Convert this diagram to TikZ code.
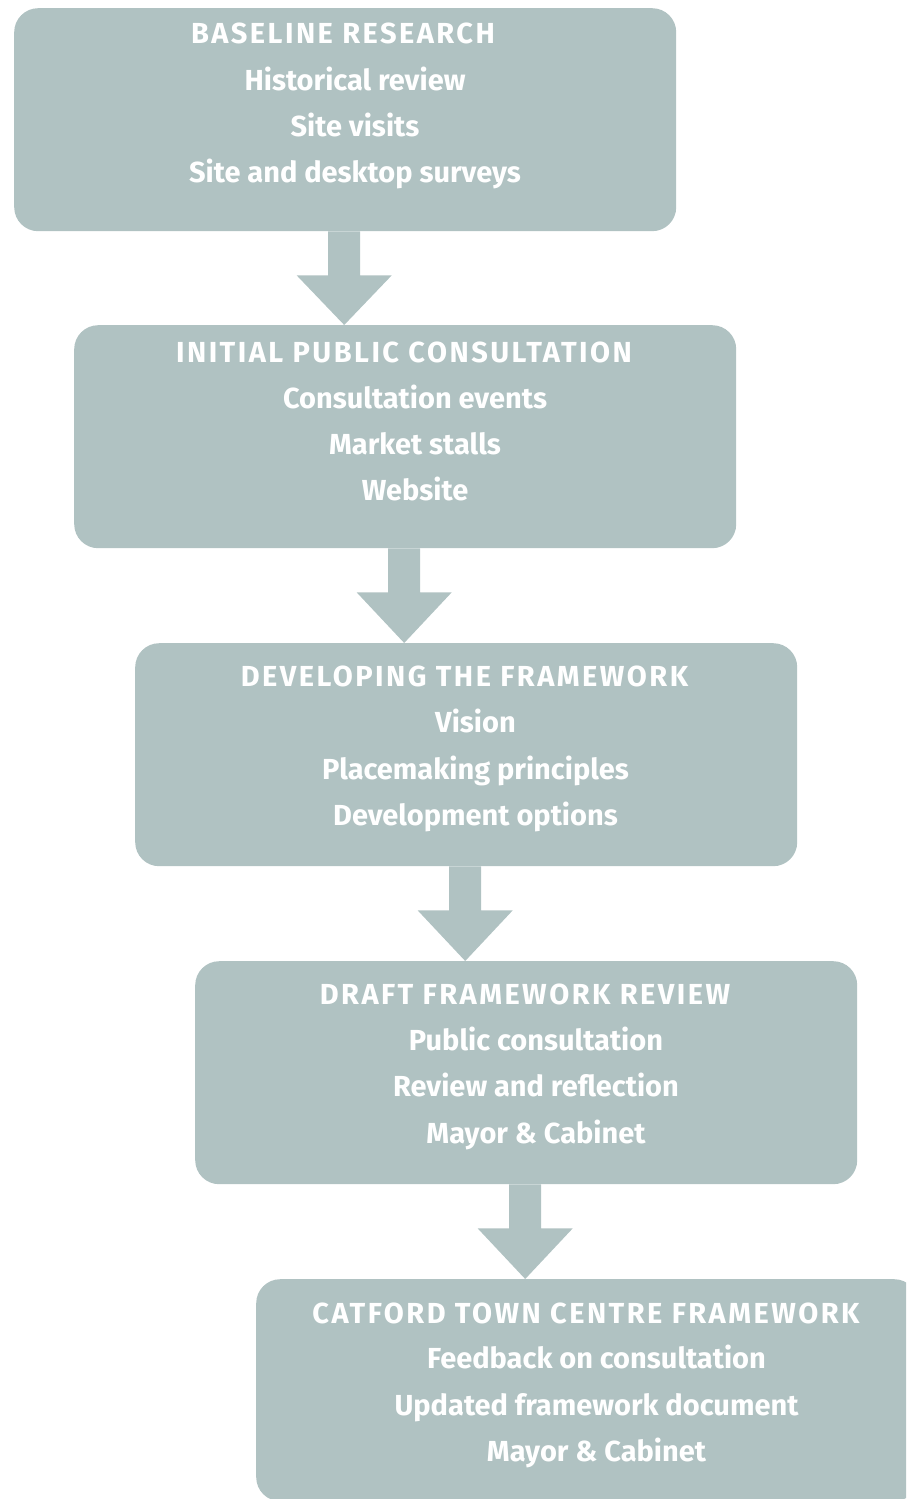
\documentclass[tikz,border=0pt]{standalone}
\usepackage{fontspec}
\setmainfont{Fira Sans}
\newfontfamily\ttlfont{Fira Sans}[LetterSpace=8.5]
\usetikzlibrary{calc}
\definecolor{boxc}{RGB}{176,194,194}
\begin{document}
\begin{tikzpicture}[x=1pt,y=-1pt,
  stagebox/.style={fill=boxc, draw=none, rounded corners=24pt, minimum width=662pt, minimum height=223pt, inner sep=0pt, anchor=north west},
  ttl/.style={text=white, font=\ttlfont\bfseries\fontsize{29}{34}\selectfont, inner sep=0pt, text height=20pt, text depth=0pt, anchor=center},
  itm/.style={text=white, font=\bfseries\fontsize{29}{34}\selectfont, inner sep=0pt, text height=20pt, text depth=0pt, anchor=center},
  af/.style={fill=boxc, draw=none}
]
\useasboundingbox (0,0) rectangle (906,1499);
\clip (0,0) rectangle (906,1499);

\node[stagebox] (b1) at (14,8) {};
\node[stagebox] (b2) at (74,325) {};
\node[stagebox] (b3) at (135,643) {};
\node[stagebox] (b4) at (195,961) {};
\node[stagebox, minimum height=222pt] (b5) at (256,1279) {};

\node[ttl] (t1) at (343,33) {BASELINE RESEARCH};
\node[itm] (t1a) at (355,80) {Historical review};
\node[itm] (t1b) at (355,126) {Site visits};
\node[itm] (t1c) at (355,172) {Site and desktop surveys};

\node[ttl] (t2) at (404,352) {INITIAL PUBLIC CONSULTATION};
\node[itm] (t2a) at (415,398) {Consultation events};
\node[itm] (t2b) at (415,444) {Market stalls};
\node[itm] (t2c) at (415,490) {Website};

\node[ttl] (t3) at (464.5,676) {DEVELOPING THE FRAMEWORK};
\node[itm] (t3a) at (475.5,722) {Vision};
\node[itm] (t3b) at (475.5,769) {Placemaking principles};
\node[itm] (t3c) at (475.5,815) {Development options};

\node[ttl] (t4) at (525,994) {DRAFT FRAMEWORK REVIEW};
\node[itm] (t4a) at (536,1040) {Public consultation};
\node[itm] (t4b) at (536,1086) {Review and reflection};
\node[itm] (t4c) at (536,1133) {Mayor \& Cabinet};

\node[ttl] (t5) at (586,1313) {CATFORD TOWN CENTRE FRAMEWORK};
\node[itm] (t5a) at (596.5,1358) {Feedback on consultation};
\node[itm] (t5b) at (596.5,1405) {Updated framework document};
\node[itm] (t5c) at (596.5,1451) {Mayor \& Cabinet};

\foreach \s/\t in {b1/b2,b2/b3,b3/b4,b4/b5}{
  \coordinate (S) at ([xshift=-1pt]\s.south);
  \coordinate (T) at (S |- \t.north);
  \fill[af] ([xshift=-16pt]S) -- ([xshift=-16pt,yshift=-44pt]S) -- ([xshift=-47.5pt,yshift=-44pt]S) -- (T)
     -- ([xshift=47.5pt,yshift=-44pt]S) -- ([xshift=16pt,yshift=-44pt]S) -- ([xshift=16pt]S) -- cycle;
}
\end{tikzpicture}
\end{document}
